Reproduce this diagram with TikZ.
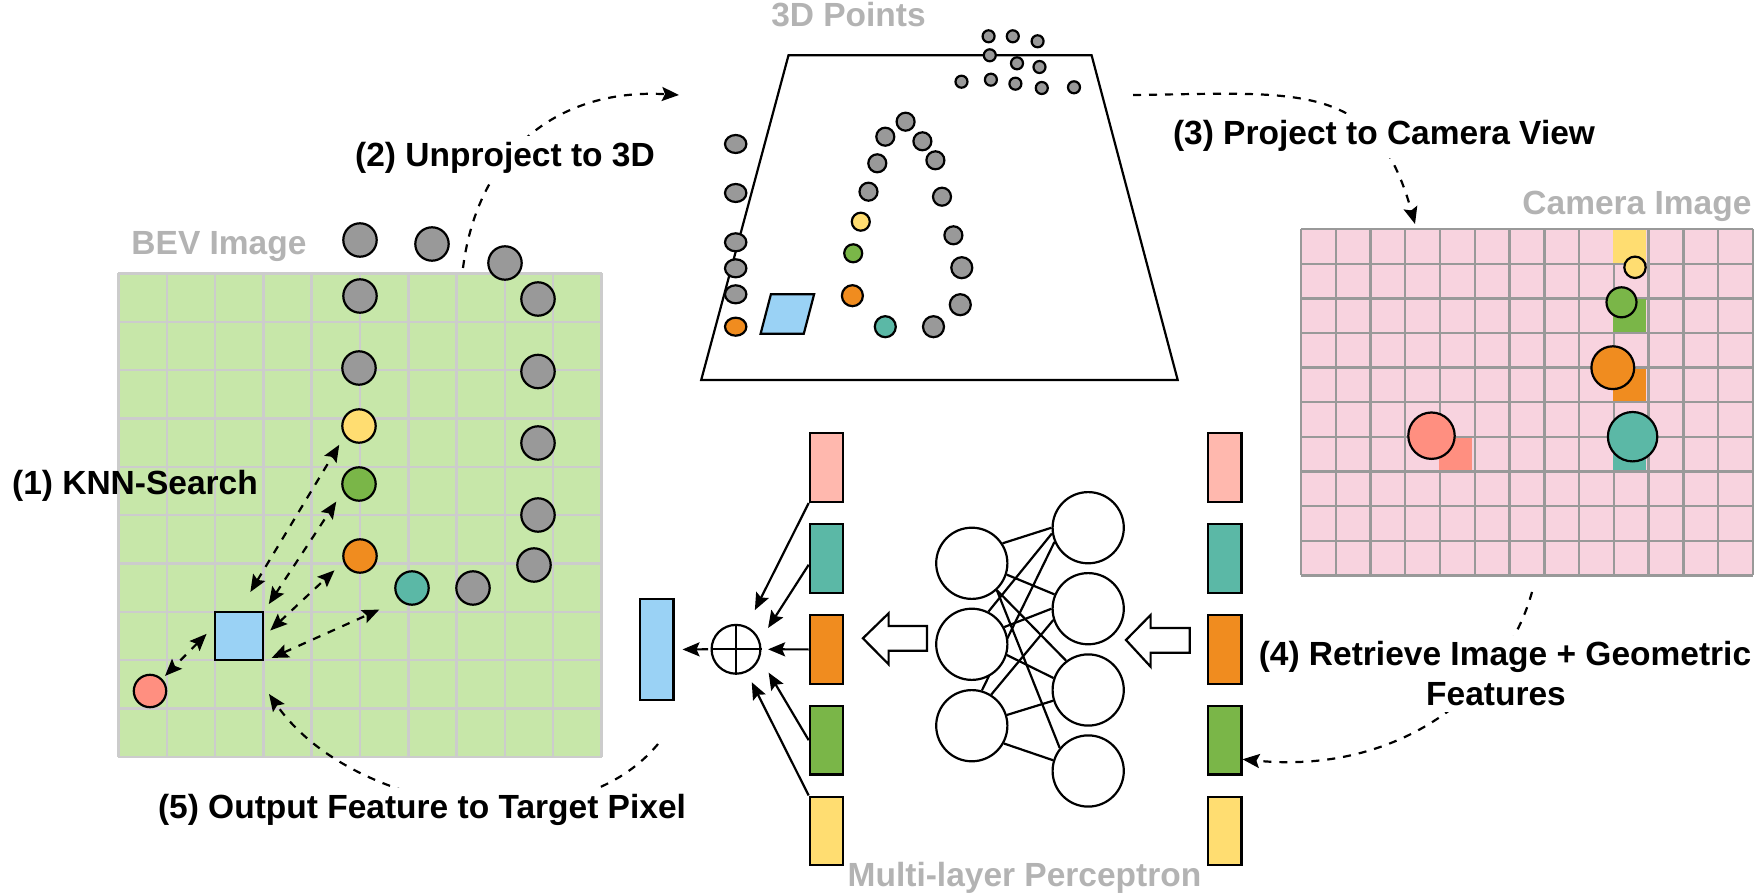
\documentclass[tikz,border=0pt]{standalone}
\usepackage{fontspec}
\setmainfont{Liberation Sans}
\usetikzlibrary{arrows.meta, shapes.geometric, backgrounds}
\definecolor{bevgreen}{HTML}{C7E7A9}
\definecolor{bevline}{HTML}{CCCCCC}
\definecolor{camerapink}{HTML}{F8D3DF}
\definecolor{ptgrey}{HTML}{999999}
\definecolor{lblgrey}{HTML}{B3B3B3}
\definecolor{ptyellow}{HTML}{FFDD71}
\definecolor{ptgreen}{HTML}{7AB648}
\definecolor{ptorange}{HTML}{F08C1F}
\definecolor{ptteal}{HTML}{5BB8A6}
\definecolor{ptred}{HTML}{FF8F80}
\definecolor{ptblue}{HTML}{9AD2F5}
\definecolor{barpink}{HTML}{FFB8AE}
\tikzset{
  >={Stealth[length=8.5pt,width=7pt,inset=1.5pt]},
  pt/.style={circle,draw,line width=1.1pt,inner sep=0pt,minimum size=#1},
  sidept/.style={ellipse,draw,line width=1.1pt,inner sep=0pt,fill=ptgrey,minimum width=10.7pt,minimum height=9pt},
  barbox/.style={rectangle,draw,line width=1.1pt,inner sep=0pt,minimum width=16.7pt,minimum height=34.3pt},
  mlpnode/.style={circle,draw,fill=white,line width=1.1pt,inner sep=0pt,minimum size=35.6pt},
  lbl/.style={font=\fontsize{16.75}{20}\selectfont\bfseries,inner sep=0pt},
  stepname/.style={lbl,fill=white,inner xsep=1pt,inner ysep=3pt},
  greyname/.style={lbl,text=lblgrey},
  flow/.style={->,line width=1.1pt,dash pattern=on 4pt off 4pt},
  knn/.style={<->,line width=1.1pt,dash pattern=on 4pt off 4pt},
}

\begin{document}
\begin{tikzpicture}[x=0.5pt,y=-0.5pt]
    \useasboundingbox (0,0) rectangle (1758,893);
    % BEV image
    \fill[bevgreen] (118.4,273.4) rectangle (601.6,756.8);
    \foreach \i in {0,...,10} {
      \draw[bevline,line width=1.2pt] ({118.4+\i*48.32},273.4) -- ({118.4+\i*48.32},756.8);
      \draw[bevline,line width=1.2pt] (118.4,{273.4+\i*48.34}) -- (601.6,{273.4+\i*48.34});
    }
    \foreach \x/\y in {360/240, 432/244, 505/263, 360/296, 359/368, 538/299, 538/371.5, 538/443, 538/515, 534/565, 473/588}
      \node[pt=16.7pt,fill=ptgrey] at (\x,\y) {};
    \node[pt=16.7pt,fill=ptyellow] (bevyellow) at (359,426) {};
    \node[pt=16.7pt,fill=ptgreen] (bevgreen) at (359,484) {};
    \node[pt=16.7pt,fill=ptorange] (bevorange) at (360,556) {};
    \node[pt=16.7pt,fill=ptteal] (bevteal) at (412,588) {};
    \node[pt=16.2pt,fill=ptred] (bevred) at (150,691) {};
    \node[rectangle,draw,line width=1.1pt,fill=ptblue,inner sep=0pt,minimum width=24.3pt,minimum height=24.1pt] (target) at (239,636) {};
    \draw[knn,shorten <=11pt,shorten >=5pt] (target.north) -- (bevyellow.215);
    \draw[knn,shorten <=4pt,shorten >=6pt] (target.north east) -- (bevgreen.205);
    \draw[knn,shorten <=4pt,shorten >=6pt] (target.east) -- (bevorange.200);
    \draw[knn,shorten <=4pt,shorten >=11pt] (target.south east) -- (bevteal.south west);
    \draw[knn,shorten <=5pt,shorten >=2pt] (target.160) -- (bevred.45);
    % 3D points
    \draw[line width=1.1pt] (788.5,55.3) -- (1091.6,55.3) -- (1177.7,380) -- (701.2,380) -- cycle;
    \foreach \x/\y in {988.6/36.3, 1012.8/36.3, 1037.6/41.3, 989.8/55.3, 1017/63.3, 1039.5/67, 961.5/81.7, 990.9/79.7, 1015.4/83.7, 1041.8/88, 1074/87.3}
      \node[pt=6pt,fill=ptgrey] at (\x,\y) {};
    \foreach \x/\y/\c in {905.6/121.7/ptgrey, 885.3/136.7/ptgrey, 922.4/141.3/ptgrey, 877.3/163.3/ptgrey, 935.4/160.3/ptgrey, 868.5/191.7/ptgrey, 942/196.7/ptgrey, 860.8/221.7/ptyellow, 953.4/235.3/ptgrey, 853.2/253.3/ptgreen}
      \node[pt=9pt,fill=\c] at (\x,\y) {};
    \foreach \x/\y/\c in {961.8/267.7/ptgrey, 960.3/304.7/ptgrey, 933.5/326.7/ptgrey, 885.3/326.7/ptteal, 852.4/295.7/ptorange}
      \node[pt=10.5pt,fill=\c] at (\x,\y) {};
    \foreach \y in {144, 193, 242.3, 268.3, 294.3}
      \node[sidept] at (735.7,\y) {};
    \node[sidept,fill=ptorange] at (735.7,326.7) {};
    \draw[line width=1.1pt,fill=ptblue] (770.9,294.3) -- (814.1,294.3) -- (803.8,333.7) -- (760.6,333.7) -- cycle;
    % camera image
    \fill[camerapink] (1301,229.3) rectangle (1752.9,575.3);
    \foreach \i in {0,...,13}
      \draw[ptgrey,line width=1.2pt] ({1301+\i*34.76},229.3) -- ({1301+\i*34.76},575.3);
    \foreach \i in {0,...,10}
      \draw[ptgrey,line width=1.2pt] (1301,{229.3+\i*34.6}) -- (1752.9,{229.3+\i*34.6});
    \foreach \x/\y/\c in {1613.3/230.3/ptyellow, 1613.3/299.5/ptgreen, 1613.3/368.7/ptorange, 1613.3/437.9/ptteal, 1439.4/437.9/ptred}
      \fill[\c] (\x,\y) rectangle ++(33,32.6);
    \node[pt=10.7pt,fill=ptyellow] at (1635,267.3) {};
    \node[pt=15pt,fill=ptgreen] at (1621.5,302.3) {};
    \node[pt=21.4pt,fill=ptorange] at (1612.8,367.7) {};
    \node[pt=24.7pt,fill=ptteal] at (1632.6,436.7) {};
    \node[pt=23.2pt,fill=ptred] at (1431.5,435.7) {};
    % feature bars
    \foreach \n/\y/\c in {1/467.6/barpink, 2/558.6/ptteal, 3/649.4/ptorange, 4/740.2/ptgreen, 5/830.9/ptyellow} {
      \node[barbox,fill=\c] (lb\n) at (826.5,\y) {};
      \node[barbox,fill=\c] (rb\n) at (1224.7,\y) {};
    }
    \node[barbox,fill=ptblue,minimum height=50.5pt] (outbar) at (656.7,649.5) {};
    \node[circle,draw,line width=1.1pt,inner sep=0pt,minimum size=24.4pt] (sum) at (736,649.3) {};
    \draw[line width=1.1pt] (sum.north) -- (sum.south);
    \draw[line width=1.1pt] (sum.west) -- (sum.east);
    \draw[->,line width=1.1pt,shorten >=9pt] (lb1.south west) -- (sum.65);
    \draw[->,line width=1.1pt,shorten >=7.5pt] (lb2.199) -- (sum.20);
    \draw[->,line width=1.1pt,shorten >=3.3pt] (lb3.west) -- (sum.east);
    \draw[->,line width=1.1pt,shorten >=8.5pt] (lb4.west) -- (sum.-20);
    \draw[->,line width=1.1pt,shorten >=5.5pt] (lb5.north west) -- (sum.-65);
    \draw[->,line width=1.1pt,shorten <=1.2pt,shorten >=4pt] (sum.west) -- (outbar.east);
    % multi-layer perceptron
    \foreach \n/\y in {1/563.3, 2/644.3, 3/725.7}
      \node[mlpnode] (l\n) at (971.8,\y) {};
    \foreach \n/\y in {1/527.7, 2/608.7, 3/690, 4/771}
      \node[mlpnode] (r\n) at (1088.2,\y) {};
    \begin{pgfonlayer}{background}
      \foreach \a/\b/\c/\d in {1/33/1/180, 1/-18/2/157, 1/-47/3/127, 1/-47/4/141, 2/63/1/189, 2/28/2/180, 2/-17/3/161, 3/74/1/203, 3/58/2/198, 3/17/3/197, 3/-29/4/163}
        \draw[line width=1.1pt] (l\a.\b) -- (r\c.\d);
    \end{pgfonlayer}
    \draw[line width=1.1pt,fill=white] (862.9,638.3) -- (888.6,613.3) -- (888.6,626) -- (927,626) -- (927,650.7) -- (888.6,650.7) -- (888.6,664.3) -- cycle;
    \draw[line width=1.1pt,fill=white] (1126,640) -- (1150.6,615) -- (1150.6,628) -- (1189.8,628) -- (1189.8,652.7) -- (1150.6,652.7) -- (1150.6,666.7) -- cycle;
    % steps
    \coordinate (bevtop) at (463,268);
    \coordinate (ptsleft) at (679,95);
    \coordinate (ptsright) at (1133,95);
    \coordinate (camtop) at (1415,224);
    \coordinate (cambottom) at (1532,592);
    \coordinate (outstart) at (658,744);
    \coordinate (targetbelow) at (269,694);
    \draw[flow] (bevtop) .. controls (478,150) and (560,88) .. (ptsleft);
    \draw[flow] (ptsright) .. controls (1300,93) and (1375,80) .. (camtop);
    \draw[flow] (cambottom) .. controls (1505,690) and (1400,775) .. (rb4.-47);
    \draw[flow] (outstart) .. controls (570,850) and (350,810) .. (targetbelow);
    \node[lbl] (knnlbl) at (135,486) {(1) KNN-Search};
    \node[stepname] (unprojlbl) at (505,157.5) {(2) Unproject to 3D};
    \node[stepname] (projlbl) at (1384,136) {(3) Project to Camera View};
    \node[stepname,align=center] (retrlbl) at (1505,674) {(4) Retrieve Image + Geometric\\Features\hspace*{9pt}};
    \node[stepname] (outlbl) at (422,809.5) {(5) Output Feature to Target Pixel};
    \node[greyname] (bevlbl) at (219,247) {BEV Image};
    \node[greyname] (ptslbl) at (848.5,15) {3D Points};
    \node[greyname] (camlbl) at (1637,206) {Camera Image};
    \node[greyname,anchor=base] (mlplbl) at (1024.5,886) {Multi-layer Perceptron};
\end{tikzpicture}
\end{document}
